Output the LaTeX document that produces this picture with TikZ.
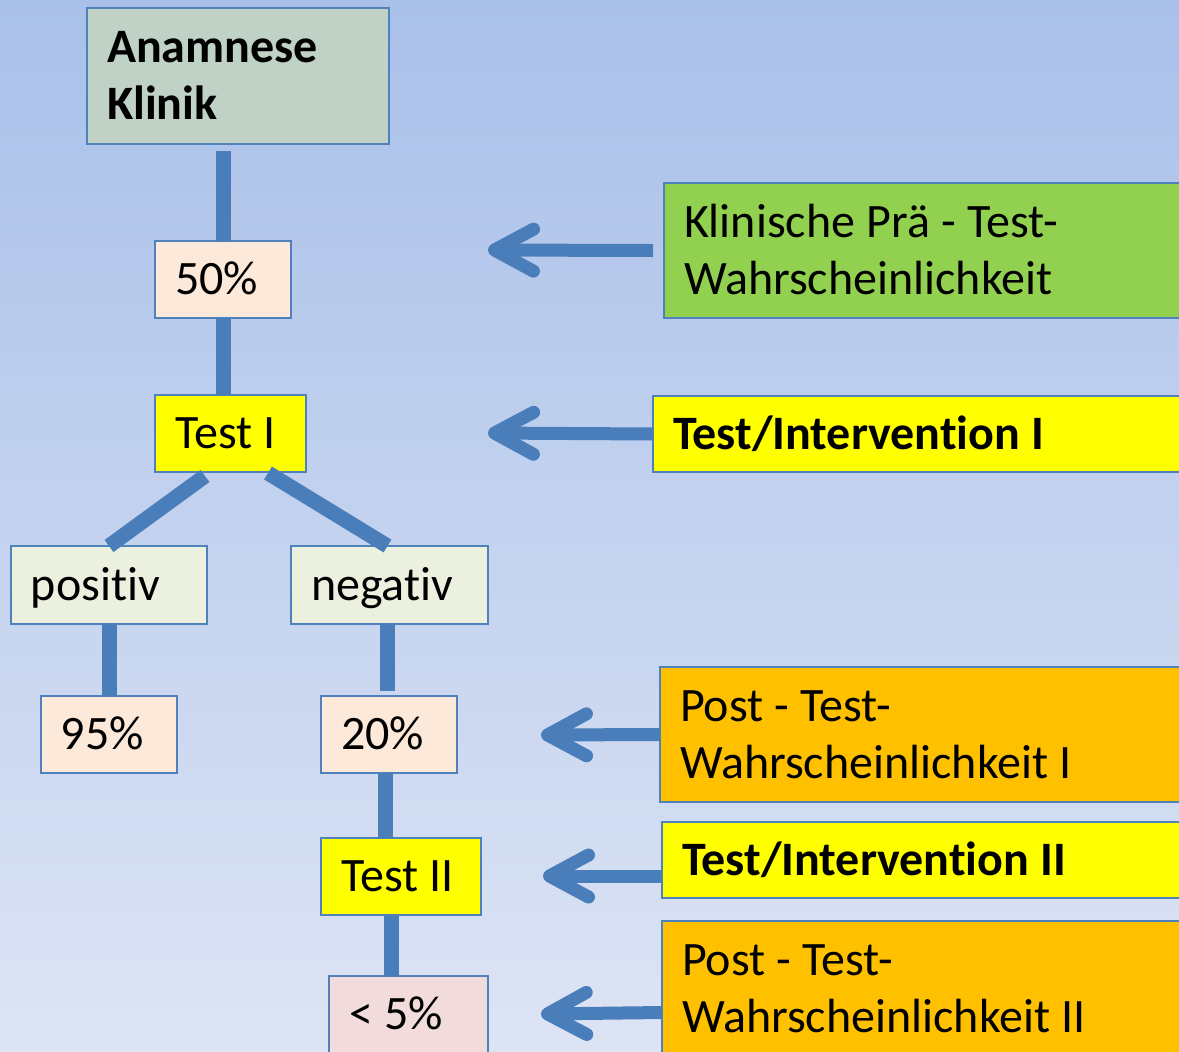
\documentclass[tikz,border=0pt]{standalone}
\usepackage{fontspec}
\setmainfont{Carlito}[Ligatures=NoCommon]
\usetikzlibrary{arrows.meta,calc}
\definecolor{bgtop}{RGB}{169,192,233}
\definecolor{bgbot}{RGB}{221,228,244}
\definecolor{conn}{RGB}{74,126,187}
\definecolor{bd}{RGB}{79,129,189}
\definecolor{anaf}{RGB}{192,209,197}
\definecolor{peach}{RGB}{253,233,217}
\definecolor{lgreen}{RGB}{235,241,222}
\definecolor{rose}{RGB}{242,220,219}
\definecolor{green}{RGB}{146,208,80}
\definecolor{orange}{RGB}{255,192,0}
\definecolor{yel}{RGB}{255,255,0}
\begin{document}
\begin{tikzpicture}[x=0.5pt,y=-0.5pt,
  box/.style={draw=bd, line width=1pt, anchor=north west, outer sep=0pt,
    inner xsep=10pt, inner ysep=0pt, align=left,
    font=\fontsize{24}{28.5}\selectfont, text height=17.3pt, text depth=1.9pt,
    execute at begin node={\spaceskip=5.6pt plus 2pt minus 1pt\xspaceskip=0pt\relax}},
  two/.style={text depth=30.4pt},
  bold/.style={font=\fontsize{24}{28.5}\selectfont\bfseries},
  link/.style={draw=conn, line width=7.5pt},
  arr/.style={draw=conn, line width=6.5pt, -{Straight Barb[length=19.5pt,width=21pt,round]}},
]
\useasboundingbox (0,0) rectangle (1179,1051);
\clip (0,0) rectangle (1179,1051);
\shade[top color=bgtop, bottom color=bgbot] (0,0) rectangle (1179,1051);

% left tree
\node[box, two, bold, fill=anaf, minimum width=151pt, minimum height=68pt, text width=131pt] (ana) at (87,8) {Anamnese\\Klinik};
\node[box, fill=peach, minimum width=68pt, minimum height=38.5pt, text width=48pt] (p50) at (155,241) {50\%};
\node[box, fill=yel, minimum width=75.5pt, minimum height=38.5pt, text width=55.5pt] (t1) at (155,395) {Test I};
\node[box, fill=lgreen, minimum width=98pt, minimum height=39pt, text width=78pt] (pos) at (11,546) {positiv};
\node[box, fill=lgreen, minimum width=98.5pt, minimum height=39pt, text width=78.5pt] (neg) at (291,546) {negativ};
\node[box, fill=peach, minimum width=68pt, minimum height=38.5pt, text width=48pt] (p95) at (41,696) {95\%};
\node[box, fill=peach, minimum width=68pt, minimum height=38.5pt, text width=48pt] (p20) at (321,696) {20\%};
\node[box, fill=yel, minimum width=80pt, minimum height=38.5pt, text width=60pt] (t2) at (321,838) {Test II};
\node[box, fill=rose, minimum width=79.5pt, minimum height=38.5pt, text width=59.5pt] (p5) at (329,976) {< 5\%};

% right boxes
\node[box, two, fill=green, minimum width=268pt, minimum height=67.5pt, text width=248pt] (kl) at (664,183) {Klinische Prä - Test-\\Wahrscheinlichkeit};
\node[box, bold, fill=yel, minimum width=273.5pt, minimum height=38pt, text width=253.5pt] (ti1) at (653,396) {Test/Intervention I};
\node[box, two, fill=orange, minimum width=270pt, minimum height=67.5pt, text width=250pt] (pt1) at (660,667) {Post - Test-\\Wahrscheinlichkeit I};
\node[box, bold, fill=yel, minimum width=269pt, minimum height=38pt, text width=249pt] (ti2) at (662,822) {Test/Intervention II};
\node[box, two, fill=orange, minimum width=269pt, minimum height=67.5pt, text width=249pt] (pt2) at (662,921) {Post - Test-\\Wahrscheinlichkeit II};

% tree connectors
\draw[link] ($(ana.south -| p50)+(0,7)$) -- (p50.north);
\draw[link] (p50.south) -- (p50.south |- t1.north);
\draw[link] ($(t1.south west)+(50,4)$) -- (pos.north);
\draw[link] ($(t1.south east)+(-38,1)$) -- ($(neg.north)+(-2,0)$);
\draw[link] (pos.south) -- (pos.south |- p95.north);
\draw[link] ($(neg.south)+(-2,0)$) -- ($(neg.south |- p20.north)+(-2,-5)$);
\draw[link] ($(p20.south)+(-4,0)$) -- ($(p20.south |- t2.north)+(-4,0)$);
\draw[link] ($(t2.south)+(-10,0)$) -- ($(t2.south |- p5.north)+(-10,0)$);

% arrows
\coordinate (h1) at (488,250);
\coordinate (h2) at (488,433);
\coordinate (h3) at (541,735);
\coordinate (h4) at (543,876);
\coordinate (h5) at (541,1014);
\draw[arr] ($(kl.west)+(-11,0)$) -- (h1);
\draw[arr] (ti1.west) -- (h2);
\draw[arr] (pt1.west) -- (h3);
\draw[arr] ($(ti2.west)+(0,16)$) -- (h4);
\draw[arr] ($(pt2.west)+(0,24)$) -- (h5);
\end{tikzpicture}
\end{document}
